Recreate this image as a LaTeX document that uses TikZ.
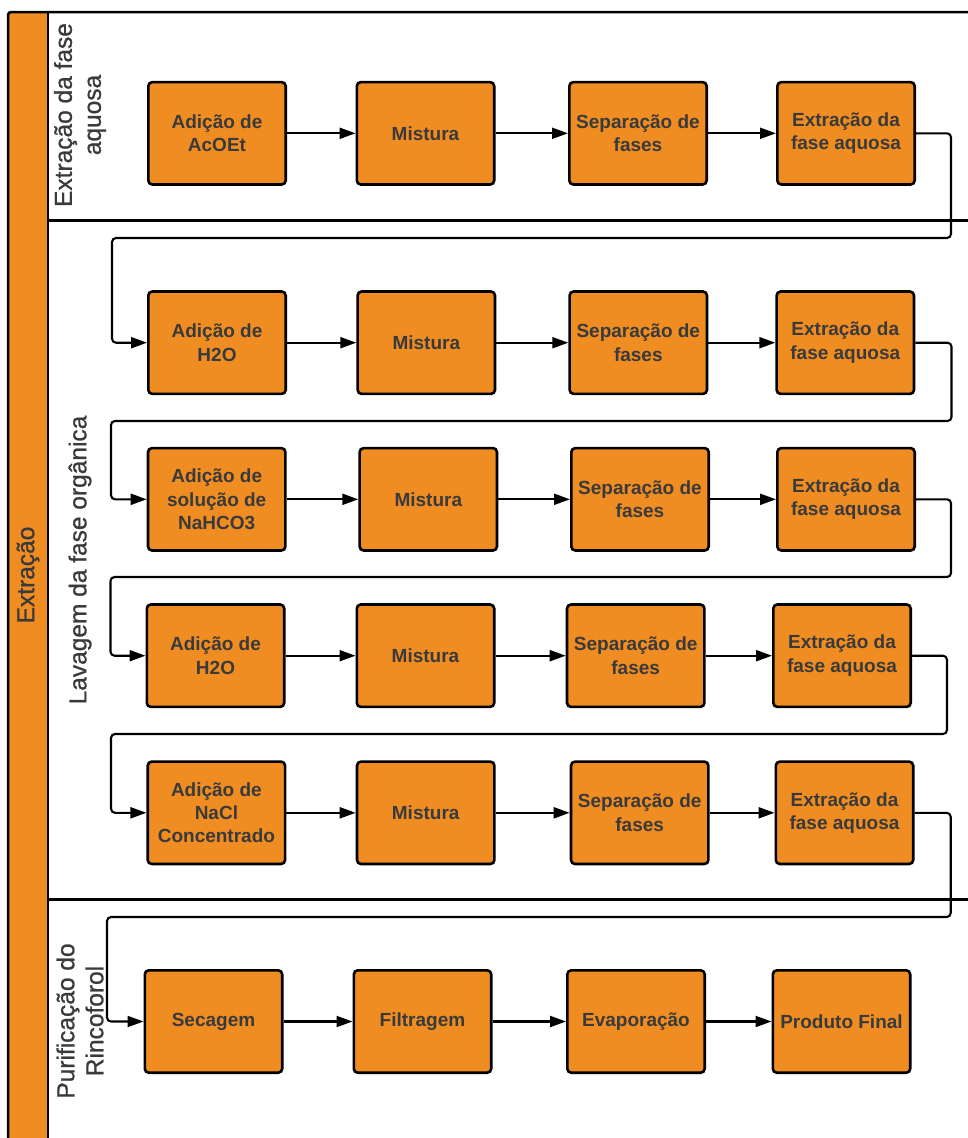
\documentclass[tikz,border=0pt]{standalone}
\usepackage{fontspec}
\setmainfont{Liberation Sans}
\newfontfamily\lanefont[FakeBold=0.9]{Liberation Sans}
\usetikzlibrary{arrows.meta}
\definecolor{og}{HTML}{EF8C22}
\definecolor{tx}{HTML}{3A3A3A}
\begin{document}
\begin{tikzpicture}[x=1pt,y=-1pt,
  stepbox/.style={draw=black, line width=2.6pt, fill=og, rounded corners=4pt, minimum width=137.4pt, minimum height=102.4pt, align=center, text=tx, font=\bfseries\fontsize{19}{23.3}\selectfont, inner sep=0pt},
  arr/.style={draw=black, line width=2.1pt, -{Triangle[length=16pt,width=11pt]}},
  loopline/.style={arr, rounded corners=4pt},
  lane/.style={rotate=90, align=center, text=tx, font=\lanefont\fontsize{24.5}{29}\selectfont, inner sep=0pt},
  frame/.style={draw=black, line width=2.5pt}]
\useasboundingbox (0,0) rectangle (968,1138);
\clip (0,0) rectangle (968,1138);
% frame
\fill[og, rounded corners=3pt] (8,1150) -- (8,12) -- (48,12) -- (48,1150) -- cycle;
\draw[frame, rounded corners=3pt] (8,1150) -- (8,12) -- (975,12);
\draw[frame] (48,12) -- (48,1150);
\draw[frame] (48,220.5) -- (975,220.5);
\draw[frame] (48,899.5) -- (975,899.5);
% labels
\node[lane] (L0) at (28,575) {Extração};
\node[lane] (L1) at (80,115) {Extração da fase\\aquosa};
\node[lane] (L2) at (80,560) {Lavagem da fase orgânica};
\node[lane] (L3) at (80,1021) {Purificação do\\Rincoforol};
% row 1
\node[stepbox] (a1) at (217,133.3) {Adição de\\AcOEt};
\node[stepbox] (a2) at (425.5,133.3) {Mistura};
\node[stepbox] (a3) at (638,133.3) {Separação de\\fases};
\node[stepbox] (a4) at (846,133.3) {Extração da\\fase aquosa};
% row 2
\node[stepbox] (b1) at (217,342.7) {Adição de\\H2O};
\node[stepbox] (b2) at (426.3,342.7) {Mistura};
\node[stepbox] (b3) at (638.3,342.7) {Separação de\\fases};
\node[stepbox] (b4) at (845.3,342.7) {Extração da\\fase aquosa};
% row 3
\node[stepbox] (c1) at (216.7,499.3) {Adição de\\solução de\\NaHCO3};
\node[stepbox] (c2) at (428.3,499.3) {Mistura};
\node[stepbox] (c3) at (640,499.3) {Separação de\\fases};
\node[stepbox] (c4) at (846,499.3) {Extração da\\fase aquosa};
% row 4
\node[stepbox] (d1) at (215.5,655.7) {Adição de\\H2O};
\node[stepbox] (d2) at (425.5,655.7) {Mistura};
\node[stepbox] (d3) at (635.7,655.7) {Separação de\\fases};
\node[stepbox] (d4) at (842,655.7) {Extração da\\fase aquosa};
% row 5
\node[stepbox] (e1) at (216.4,812.8) {Adição de\\NaCl\\Concentrado};
\node[stepbox] (e2) at (425.7,812.8) {Mistura};
\node[stepbox] (e3) at (639.7,812.8) {Separação de\\fases};
\node[stepbox] (e4) at (844.5,812.8) {Extração da\\fase aquosa};
% row 6
\node[stepbox] (f1) at (213.5,1021.5) {Secagem};
\node[stepbox] (f2) at (422.5,1021.5) {Filtragem};
\node[stepbox] (f3) at (636,1021.5) {Evaporação};
\node[stepbox] (f4) at (841.5,1021.5) {Produto Final};
% straight arrows
\foreach \r in {a,b,c,d,e,f}{
  \draw[arr] (\r1) -- (\r2);
  \draw[arr] (\r2) -- (\r3);
  \draw[arr] (\r3) -- (\r4);
}
% loops
\coordinate (k1) at (951,238);   \coordinate (j1) at (112,238);
\coordinate (k2) at (951.5,421); \coordinate (j2) at (111,421);
\coordinate (k3) at (951,577);   \coordinate (j3) at (110.5,577);
\coordinate (k4) at (947,734);   \coordinate (j4) at (111,734);
\coordinate (k5) at (950.7,917); \coordinate (j5) at (107,917);
\draw[loopline] (a4.east) -| (k1) -- (j1) |- (b1.west);
\draw[loopline] (b4.east) -| (k2) -- (j2) |- (c1.west);
\draw[loopline] (c4.east) -| (k3) -- (j3) |- (d1.west);
\draw[loopline] (d4.east) -| (k4) -- (j4) |- (e1.west);
\draw[loopline] (e4.east) -| (k5) -- (j5) |- (f1.west);
\end{tikzpicture}
\end{document}
